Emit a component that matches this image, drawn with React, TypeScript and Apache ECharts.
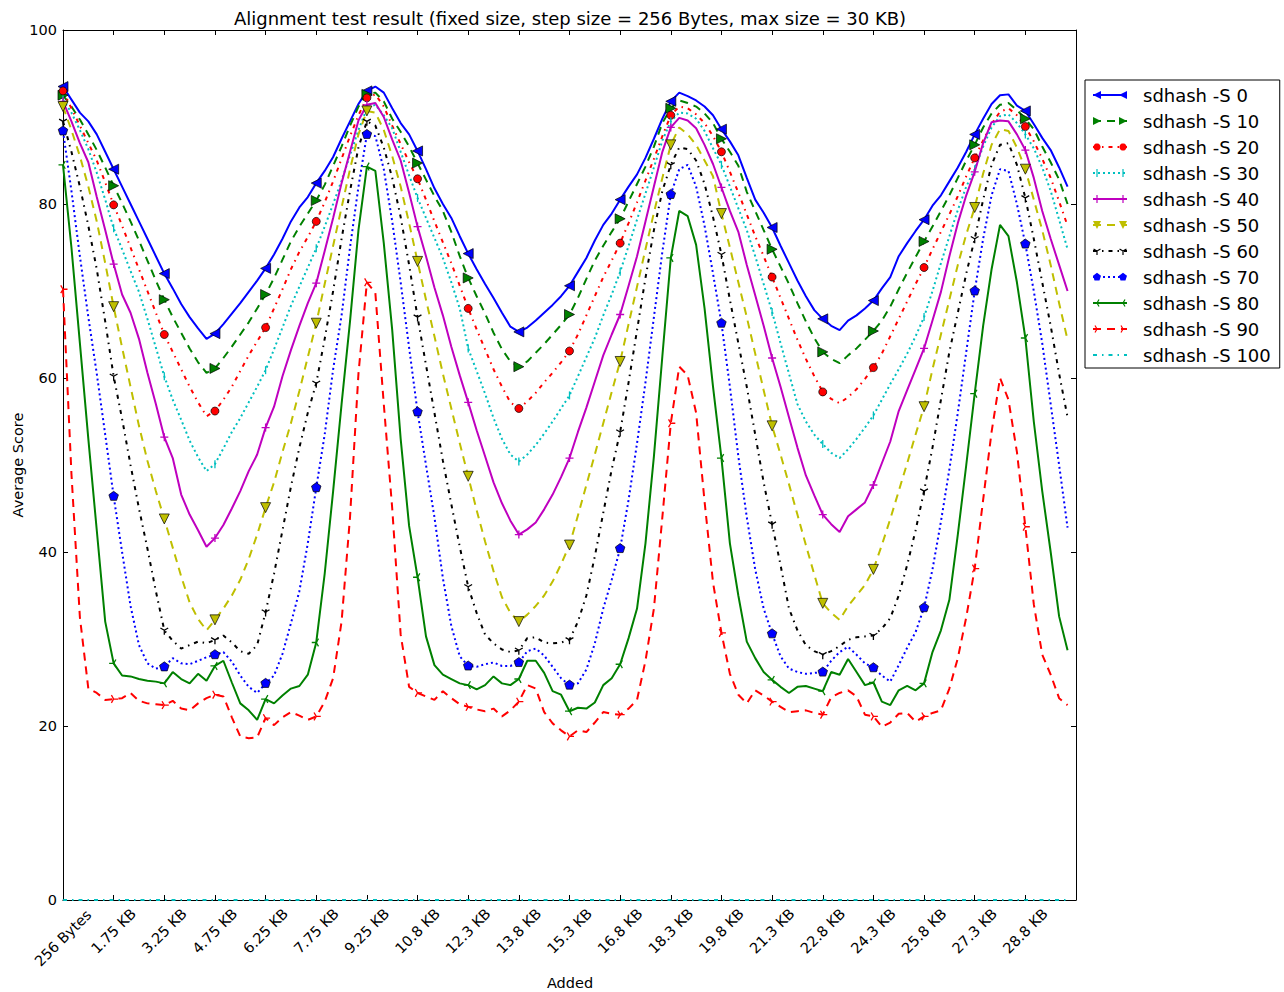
import React, { useEffect, useRef } from "react";
import * as echarts from "echarts";

// Tick labels every 6 steps (6 x 256 Bytes = 1.5 KB)
const tickLabels = [
  "256 Bytes", "1.75 KB", "3.25 KB", "4.75 KB", "6.25 KB", "7.75 KB", "9.25 KB",
  "10.8 KB", "12.3 KB", "13.8 KB", "15.3 KB", "16.8 KB", "18.3 KB", "19.8 KB",
  "21.3 KB", "22.8 KB", "24.3 KB", "25.8 KB", "27.3 KB", "28.8 KB",
];

const seriesNames = [
  "sdhash -S 0", "sdhash -S 10", "sdhash -S 20", "sdhash -S 30", "sdhash -S 40",
  "sdhash -S 50", "sdhash -S 60", "sdhash -S 70", "sdhash -S 80", "sdhash -S 90",
  "sdhash -S 100",
];

const s0 = [
  93.5, 92.0, 90.5, 89.5, 88.0, 86.0, 84.0, 82.0, 80.0, 78.0,
  76.0, 74.0, 72.0, 70.3, 68.5, 67.0, 65.7, 64.5, 65.1, 66.2,
  67.4, 68.6, 69.9, 71.2, 72.6, 74.2, 76.0, 78.0, 79.6, 80.8,
  82.4, 83.8, 85.4, 87.5, 89.5, 91.5, 93.0, 93.5, 92.8, 91.0,
  89.3, 88.0, 86.1, 84.0, 81.8, 80.0, 78.4, 76.3, 74.3, 72.5,
  70.8, 69.2, 67.5, 65.9, 65.3, 65.8, 66.6, 67.5, 68.4, 69.4,
  70.6, 72.2, 73.8, 75.8, 77.6, 78.9, 80.5, 82.0, 83.4, 85.3,
  87.5, 89.8, 91.8, 92.8, 92.4, 91.9, 91.2, 90.2, 88.6, 87.2,
  85.6, 83.0, 80.5, 79.0, 77.3, 75.2, 73.2, 71.2, 69.4, 67.8,
  66.8, 66.0, 65.5, 66.6, 67.2, 68.0, 68.9, 70.3, 71.6, 74.0,
  75.5, 76.9, 78.2, 79.8, 81.0, 82.6, 84.2, 86.0, 88.0, 89.8,
  91.5, 92.5, 92.6, 91.3, 90.7, 89.2, 87.6, 86.2, 84.2, 82.0,
];

const s10 = [
  92.5, 91.2, 89.7, 88.0, 86.2, 84.2, 82.1, 80.1, 78.0, 75.8,
  73.5, 71.2, 69.0, 67.0, 65.2, 63.4, 61.8, 60.6, 61.1, 62.3,
  63.6, 65.0, 66.4, 68.0, 69.6, 71.5, 73.6, 75.7, 77.4, 78.9,
  80.4, 82.2, 84.4, 86.6, 89.0, 91.2, 92.6, 92.8, 91.8, 89.8,
  88.3, 86.6, 84.7, 82.8, 80.9, 79.2, 76.8, 74.0, 71.5, 69.4,
  67.4, 65.2, 63.3, 61.9, 61.3, 61.9, 62.9, 63.9, 65.0, 66.1,
  67.3, 69.2, 71.4, 73.5, 75.2, 76.8, 78.3, 80.3, 82.3, 84.3,
  86.6, 89.3, 91.0, 91.9, 91.6, 91.2, 90.4, 89.3, 87.5, 86.0,
  84.4, 81.4, 79.2, 77.0, 74.8, 72.8, 70.8, 68.6, 66.5, 64.6,
  63.0, 62.2, 61.7, 62.6, 63.4, 64.4, 65.4, 66.6, 68.2, 70.2,
  72.1, 73.9, 75.7, 77.4, 79.2, 81.0, 83.0, 85.0, 86.8, 88.8,
  90.4, 91.4, 91.6, 90.8, 89.8, 88.6, 86.6, 84.8, 82.8, 80.0,
];

const s20 = [
  93.0, 91.0, 89.0, 87.0, 85.0, 82.5, 79.9, 77.5, 75.0, 72.5,
  70.0, 67.5, 65.0, 63.0, 61.0, 59.0, 57.2, 55.6, 56.2, 57.5,
  59.0, 60.8, 62.6, 64.2, 65.8, 68.0, 70.2, 72.5, 74.5, 76.2,
  78.0, 80.2, 82.6, 85.2, 87.8, 90.2, 92.2, 92.6, 91.2, 89.0,
  86.9, 84.8, 82.9, 80.5, 78.0, 75.6, 73.2, 70.6, 68.0, 65.6,
  63.3, 61.0, 59.0, 57.2, 56.5, 57.3, 58.3, 59.5, 60.6, 61.8,
  63.1, 65.0, 67.2, 69.4, 71.6, 73.5, 75.5, 77.8, 80.2, 82.7,
  85.2, 87.8, 90.2, 91.2, 91.0, 90.3, 89.3, 87.8, 86.0, 83.7,
  81.3, 78.8, 76.3, 74.0, 71.6, 69.2, 66.8, 64.4, 62.2, 60.2,
  58.4, 57.6, 57.1, 57.8, 58.7, 59.9, 61.2, 62.8, 64.8, 66.8,
  68.8, 70.8, 72.7, 74.8, 76.8, 78.8, 80.9, 83.2, 85.3, 87.3,
  89.2, 90.6, 91.0, 90.2, 88.9, 87.2, 85.2, 83.0, 80.3, 77.5,
];

const s30 = [
  92.0, 90.5, 88.5, 86.3, 83.6, 80.5, 77.2, 74.8, 72.3, 69.9,
  66.8, 63.5, 60.2, 57.5, 55.2, 52.8, 50.9, 49.3, 50.1, 51.9,
  53.8, 55.4, 57.2, 59.0, 60.9, 63.3, 65.8, 68.3, 70.5, 72.7,
  74.9, 77.4, 80.0, 82.7, 85.6, 88.5, 91.0, 91.4, 90.2, 88.7,
  86.0, 83.3, 80.7, 78.4, 76.1, 73.8, 71.0, 68.0, 63.4, 60.8,
  58.2, 55.4, 53.0, 51.2, 50.4, 51.2, 52.3, 53.6, 55.0, 56.5,
  58.0, 60.2, 62.4, 64.6, 67.2, 69.6, 72.2, 75.2, 78.2, 81.2,
  84.2, 87.3, 89.5, 90.5, 90.4, 89.8, 88.4, 86.4, 84.5, 82.0,
  79.5, 77.0, 74.0, 70.8, 67.6, 64.0, 60.5, 57.0, 55.0, 53.5,
  52.4, 51.4, 50.8, 51.8, 53.0, 54.3, 55.7, 57.5, 59.3, 61.0,
  62.8, 64.8, 67.0, 70.0, 73.2, 76.3, 79.3, 82.0, 84.0, 86.6,
  88.8, 90.1, 90.3, 89.3, 88.0, 86.4, 84.2, 81.5, 78.2, 74.8,
];

const s40 = [
  91.8, 89.5, 87.0, 84.8, 80.8, 77.0, 73.1, 69.6, 67.5, 64.5,
  60.6, 57.0, 53.2, 50.8, 46.6, 44.3, 42.5, 40.6, 41.6, 43.1,
  45.0, 47.0, 49.3, 51.2, 54.3, 56.7, 60.2, 63.2, 66.0, 68.6,
  70.9, 74.6, 78.4, 82.4, 86.0, 89.6, 91.4, 91.6, 90.0, 87.4,
  85.0, 81.3, 77.4, 74.0, 70.4, 67.2, 63.6, 60.3, 57.2, 54.0,
  51.0, 48.0, 45.6, 43.6, 42.0, 42.6, 43.4, 44.9, 46.6, 48.6,
  50.8, 53.8, 56.6, 59.6, 62.6, 65.0, 67.3, 70.6, 74.0, 78.0,
  82.0, 86.0, 88.8, 89.9, 89.6, 88.7, 86.8, 84.6, 81.9, 79.2,
  76.8, 73.0, 69.5, 66.0, 62.3, 59.0, 55.5, 52.0, 48.8, 46.5,
  44.3, 43.2, 42.3, 44.1, 44.9, 45.7, 47.7, 50.2, 52.7, 56.2,
  58.6, 61.0, 63.4, 66.6, 69.9, 74.0, 77.8, 81.0, 83.7, 87.0,
  89.4, 89.6, 89.5, 88.0, 86.2, 83.0, 79.2, 76.0, 73.0, 70.0,
];

const s50 = [
  91.2, 88.5, 85.5, 82.0, 78.0, 73.2, 68.2, 63.5, 59.0, 54.5,
  50.5, 47.0, 43.8, 40.5, 37.2, 34.2, 32.3, 31.0, 32.2, 33.5,
  35.0, 36.8, 39.2, 42.0, 45.1, 48.0, 51.5, 54.8, 58.5, 62.4,
  66.3, 70.8, 75.2, 79.6, 84.0, 88.0, 90.7, 90.5, 88.5, 85.5,
  82.0, 77.8, 73.4, 69.0, 64.8, 60.5, 56.5, 52.5, 48.7, 44.8,
  41.2, 37.8, 34.8, 33.0, 32.0, 32.8, 33.8, 35.0, 36.6, 38.6,
  40.8, 44.2, 47.7, 51.2, 54.8, 58.4, 61.9, 66.2, 70.5, 74.8,
  79.0, 83.0, 86.8, 88.8, 88.0, 86.8, 85.0, 83.2, 78.9, 75.0,
  71.0, 67.0, 62.8, 58.6, 54.5, 51.2, 47.8, 44.3, 40.8, 37.4,
  34.1, 33.0, 32.2, 33.8, 35.0, 36.2, 38.0, 40.8, 43.8, 47.0,
  50.2, 53.5, 56.7, 61.0, 65.0, 69.0, 73.0, 76.5, 79.6, 83.5,
  86.8, 88.6, 88.4, 86.5, 84.0, 80.5, 77.0, 73.0, 68.6, 64.4,
];

const s60 = [
  89.5, 86.0, 82.0, 77.5, 72.5, 66.5, 60.2, 55.3, 50.0, 45.0,
  40.4, 35.5, 31.0, 29.8, 28.9, 29.3, 29.7, 29.5, 29.9, 30.4,
  29.6, 28.6, 28.3, 29.3, 33.1, 37.5, 42.5, 47.5, 52.0, 56.0,
  59.4, 64.5, 70.0, 76.0, 81.5, 86.5, 89.5, 89.0, 86.5, 83.0,
  78.5, 73.0, 67.0, 61.5, 56.0, 50.5, 45.5, 40.6, 36.0, 33.0,
  30.5, 29.5, 28.8, 28.5, 28.7, 30.1, 30.2, 29.6, 29.5, 29.6,
  29.9, 32.0, 35.0, 39.5, 44.5, 49.5, 53.8, 59.5, 65.5, 71.5,
  77.0, 81.5, 84.5, 86.5, 86.3, 85.0, 82.3, 78.5, 74.2, 69.0,
  64.0, 59.0, 53.5, 48.0, 43.2, 38.5, 33.5, 31.0, 29.3, 28.6,
  28.2, 28.6, 29.2, 29.9, 30.2, 30.3, 30.4, 31.2, 32.4, 35.0,
  38.5, 42.5, 47.0, 52.0, 57.5, 63.0, 67.5, 72.0, 76.0, 80.5,
  84.5, 86.8, 87.0, 84.5, 80.7, 76.0, 71.0, 66.0, 60.5, 55.5,
];

const s70 = [
  88.4, 81.5, 74.0, 67.0, 60.5, 53.5, 46.4, 40.0, 33.8, 29.3,
  27.2, 26.6, 26.8, 27.8, 27.2, 27.1, 27.5, 27.9, 28.2, 28.5,
  27.4, 25.8, 24.5, 23.8, 24.9, 25.8, 28.3, 31.8, 35.5, 41.0,
  47.4, 53.5, 61.0, 67.2, 75.0, 82.0, 88.0, 87.8, 84.0, 78.0,
  71.0, 63.5, 56.1, 50.0, 44.0, 37.0, 31.5, 28.0, 26.9, 26.8,
  27.1, 27.3, 26.9, 26.9, 27.3, 28.6, 28.9, 28.1, 26.8, 25.5,
  24.7, 24.9, 26.5, 29.5, 33.5, 36.8, 40.4, 46.0, 52.5, 59.5,
  67.0, 74.5, 81.1, 84.0, 84.5, 82.0, 77.5, 72.0, 66.3, 59.0,
  51.0, 44.0, 38.0, 33.5, 30.6, 28.0, 26.6, 26.2, 26.0, 26.1,
  26.2, 27.5, 28.5, 29.1, 28.2, 27.2, 26.7, 25.8, 25.1, 27.0,
  29.0, 30.8, 33.6, 38.0, 43.5, 49.5, 56.0, 63.0, 70.0, 76.0,
  81.0, 84.0, 83.8, 80.0, 75.4, 70.0, 64.0, 57.0, 50.0, 42.8,
];

const s80 = [
  84.5, 75.0, 64.0, 53.0, 42.5, 32.0, 27.2, 25.8, 25.7, 25.4,
  25.2, 25.1, 24.9, 26.2, 25.4, 24.9, 26.0, 25.2, 26.9, 27.5,
  25.0, 22.6, 21.8, 20.7, 23.1, 22.6, 23.5, 24.3, 24.6, 25.9,
  29.6, 37.5, 47.0, 57.0, 66.5, 77.0, 84.3, 83.8, 75.5, 65.5,
  53.0, 43.0, 37.1, 30.3, 27.0, 25.9, 25.4, 24.9, 24.7, 24.2,
  24.7, 25.7, 24.9, 24.7, 25.4, 27.5, 27.5, 26.1, 24.0, 23.6,
  21.7, 22.1, 22.0, 22.7, 24.7, 25.5, 27.1, 30.1, 33.5, 41.0,
  51.0, 62.5, 73.8, 79.2, 78.6, 75.3, 68.0, 59.0, 50.8, 41.0,
  35.0, 29.7, 27.8, 26.2, 25.3, 24.5, 23.8, 24.5, 24.6, 24.3,
  24.0, 26.2, 25.9, 27.7, 26.2, 24.7, 25.0, 22.8, 22.4, 24.1,
  24.6, 24.1, 24.9, 28.5, 31.0, 34.5, 42.0, 50.0, 58.2, 66.0,
  72.5, 77.6, 76.3, 71.0, 64.6, 55.0, 47.0, 40.0, 32.6, 28.7,
];

const s90 = [
  70.2, 49.0, 32.5, 24.3, 23.8, 23.0, 23.1, 23.2, 23.8, 22.9,
  22.6, 22.5, 22.4, 22.9, 22.0, 21.8, 22.6, 23.2, 23.6, 23.4,
  21.0, 18.8, 18.6, 18.7, 20.9, 20.1, 21.0, 21.6, 21.2, 20.7,
  21.1, 22.8, 25.5, 32.0, 44.0, 60.5, 71.0, 69.8, 57.0, 45.0,
  30.5, 24.5, 23.8, 23.4, 23.0, 24.0, 23.2, 22.5, 22.2, 21.9,
  21.7, 22.0, 21.1, 21.8, 22.8, 24.7, 24.3, 21.6, 20.3, 19.5,
  18.8, 19.5, 19.3, 20.4, 21.6, 21.4, 21.3, 22.0, 23.0, 27.5,
  33.5, 44.0, 54.8, 61.3, 60.3, 56.0, 45.8, 36.5, 30.7, 26.0,
  23.6, 22.6, 24.1, 23.5, 22.8, 22.2, 21.6, 21.7, 21.8, 21.5,
  21.3, 23.3, 23.8, 24.1, 23.4, 21.3, 21.1, 19.9, 20.4, 21.4,
  21.5, 20.5, 21.1, 21.5, 21.8, 24.3, 27.8, 32.5, 38.1, 46.0,
  53.8, 60.0, 57.5, 51.5, 42.9, 34.0, 28.2, 25.9, 23.2, 22.4,
];

const s100 = [
  0, 0, 0, 0, 0, 0, 0, 0, 0, 0,
  0, 0, 0, 0, 0, 0, 0, 0, 0, 0,
  0, 0, 0, 0, 0, 0, 0, 0, 0, 0,
  0, 0, 0, 0, 0, 0, 0, 0, 0, 0,
  0, 0, 0, 0, 0, 0, 0, 0, 0, 0,
  0, 0, 0, 0, 0, 0, 0, 0, 0, 0,
  0, 0, 0, 0, 0, 0, 0, 0, 0, 0,
  0, 0, 0, 0, 0, 0, 0, 0, 0, 0,
  0, 0, 0, 0, 0, 0, 0, 0, 0, 0,
  0, 0, 0, 0, 0, 0, 0, 0, 0, 0,
  0, 0, 0, 0, 0, 0, 0, 0, 0, 0,
  0, 0, 0, 0, 0, 0, 0, 0, 0, 0,
];

const seriesValues = [s0, s10, s20, s30, s40, s50, s60, s70, s80, s90, s100];

const FONT = '"DejaVu Sans", "Liberation Sans", sans-serif';
const MARK_EVERY = 6;

// Marker shapes; the leading "M0,0M10,10" pins the bounding box so stroked glyphs stay centred.
const SYM = {
  pentagon: "path://M0,0M10,10M5,0L9.76,3.45L7.94,9.05L2.06,9.05L0.24,3.45Z",
  vline: "path://M0,0M10,10M5,0L5,10",
  plus: "path://M0,0M10,10M5,0L5,10M0,5L10,5",
  triDown: "path://M0,0M10,10M5,5L5,10M5,5L0.67,2.5M5,5L9.33,2.5",
  triLeft: "path://M0,0M10,10M5,5L0,5M5,5L7.5,0.67M5,5L7.5,9.33",
  triRight: "path://M0,0M10,10M5,5L10,5M5,5L2.5,0.67M5,5L2.5,9.33",
  pixel: "path://M0,0M10,10M4.5,4.5L5.5,4.5L5.5,5.5L4.5,5.5Z",
};

const DASHED = [8, 6];
const DOTTED = [2, 3];
const DASHDOT = [4, 5, 1.5, 5];

type Look = {
  color: string;
  dash: string | number[];
  symbol: string;
  rotate: number;
  size: number;
  filled: boolean;
  mark: string;
};

const looks: Look[] = [
  { color: "#0000ff", dash: "solid", symbol: "triangle", rotate: 90, size: 10, filled: true, mark: "tri" },
  { color: "#008000", dash: DASHED, symbol: "triangle", rotate: -90, size: 10, filled: true, mark: "tri" },
  { color: "#ff0000", dash: DASHDOT, symbol: "circle", rotate: 0, size: 8, filled: true, mark: "circle" },
  { color: "#00bfbf", dash: DOTTED, symbol: SYM.vline, rotate: 0, size: 8, filled: false, mark: "vline" },
  { color: "#bf00bf", dash: "solid", symbol: SYM.plus, rotate: 0, size: 8, filled: false, mark: "plus" },
  { color: "#bfbf00", dash: DASHED, symbol: "triangle", rotate: 180, size: 10, filled: true, mark: "tri" },
  { color: "#000000", dash: DASHDOT, symbol: SYM.triDown, rotate: 0, size: 9, filled: false, mark: "triDown" },
  { color: "#0000ff", dash: DOTTED, symbol: SYM.pentagon, rotate: 0, size: 10, filled: true, mark: "pent" },
  { color: "#008000", dash: "solid", symbol: SYM.triLeft, rotate: 0, size: 9, filled: false, mark: "triLeft" },
  { color: "#ff0000", dash: DASHED, symbol: SYM.triRight, rotate: 0, size: 9, filled: false, mark: "triRight" },
  { color: "#00bfbf", dash: DASHDOT, symbol: SYM.pixel, rotate: 0, size: 2, filled: true, mark: "pixel" },
];

// ---- legend handle: a short line sample with a marker near each end, as one filled path ----
const LEG_W = 40;
const LEG_H = 12;
const LEG_CY = 6;
const LEG_X0 = 3;
const LEG_X1 = 37;
const LEG_MARKS = [7, 33];

function polyPath(pts: number[][]): string {
  let s = 0;
  for (let i = 0; i < pts.length; i++) {
    const a = pts[i];
    const b = pts[(i + 1) % pts.length];
    s += a[0] * b[1] - b[0] * a[1];
  }
  const p = s < 0 ? pts.slice().reverse() : pts;
  return "M" + p.map((q) => q[0].toFixed(2) + "," + q[1].toFixed(2)).join("L") + "Z";
}

function rectPath(x: number, y: number, w: number, h: number): string {
  return polyPath([[x, y], [x + w, y], [x + w, y + h], [x, y + h]]);
}

function armPath(cx: number, cy: number, ex: number, ey: number, t: number): string {
  const dx = ex - cx;
  const dy = ey - cy;
  const len = Math.hypot(dx, dy);
  const nx = (-dy / len) * (t / 2);
  const ny = (dx / len) * (t / 2);
  return polyPath([[cx + nx, cy + ny], [ex + nx, ey + ny], [ex - nx, ey - ny], [cx - nx, cy - ny]]);
}

function legendMarker(lk: Look, cx: number, cy: number): string {
  const r = 4;
  const t = 1.2;
  switch (lk.mark) {
    case "tri": {
      const a = (lk.rotate * Math.PI) / 180;
      const base = [[0, -r], [r, r], [-r, r]];
      return polyPath(
        base.map(([x, y]) => [cx + x * Math.cos(a) + y * Math.sin(a), cy - x * Math.sin(a) + y * Math.cos(a)])
      );
    }
    case "circle": {
      const pts: number[][] = [];
      for (let i = 0; i < 20; i++) {
        const a = (i / 20) * Math.PI * 2;
        pts.push([cx + 3.6 * Math.cos(a), cy + 3.6 * Math.sin(a)]);
      }
      return polyPath(pts);
    }
    case "pent": {
      const pts: number[][] = [];
      for (let i = 0; i < 5; i++) {
        const a = -Math.PI / 2 + (i * 2 * Math.PI) / 5;
        pts.push([cx + 4.2 * Math.cos(a), cy + 4.2 * Math.sin(a)]);
      }
      return polyPath(pts);
    }
    case "vline":
      return rectPath(cx - t / 2, cy - r, t, 2 * r);
    case "plus":
      return rectPath(cx - t / 2, cy - r, t, 2 * r) + rectPath(cx - r, cy - t / 2, 2 * r, t);
    case "triDown":
      return armPath(cx, cy, cx, cy + r, t) + armPath(cx, cy, cx - 3.46, cy - 2, t) + armPath(cx, cy, cx + 3.46, cy - 2, t);
    case "triLeft":
      return armPath(cx, cy, cx - r, cy, t) + armPath(cx, cy, cx + 2, cy - 3.46, t) + armPath(cx, cy, cx + 2, cy + 3.46, t);
    case "triRight":
      return armPath(cx, cy, cx + r, cy, t) + armPath(cx, cy, cx - 2, cy - 3.46, t) + armPath(cx, cy, cx - 2, cy + 3.46, t);
    default:
      return "";
  }
}

function legendIcon(lk: Look): string {
  let d = `M0,0M${LEG_W},${LEG_H}`;
  if (lk.dash === "solid") {
    d += rectPath(LEG_X0, LEG_CY - 1, LEG_X1 - LEG_X0, 2);
  } else {
    const pat = lk.dash as number[];
    let x = LEG_X0;
    let i = 0;
    while (x < LEG_X1) {
      const xe = Math.min(x + pat[i % pat.length], LEG_X1);
      if (i % 2 === 0) d += rectPath(x, LEG_CY - 1, xe - x, 2);
      x = xe;
      i++;
    }
  }
  for (const cx of LEG_MARKS) d += legendMarker(lk, cx, LEG_CY);
  return "path://" + d;
}

const TITLE = "Alignment test result (fixed size, step size = 256 Bytes, max size = 30 KB)";

function buildOption() {
  const series = seriesValues.map((vals, k) => {
    const lk = looks[k];
    return {
      name: seriesNames[k],
      type: "line",
      data: vals.map((v, i) => [i, v]),
      symbol: lk.symbol,
      symbolRotate: lk.rotate,
      symbolSize: (_v: unknown, p: any) => (p.dataIndex % MARK_EVERY === 0 ? lk.size : 0),
      showSymbol: true,
      showAllSymbol: true,
      lineStyle: { color: lk.color, width: 2, type: lk.dash, cap: "butt" },
      itemStyle: lk.filled
        ? { color: lk.color, borderColor: "#000", borderWidth: 0.7 }
        : { color: lk.color, borderColor: lk.color, borderWidth: 1.3 },
      emphasis: { disabled: true },
      z: 2,
    };
  });

  const tickStyle = { show: true, inside: true, length: 5, lineStyle: { color: "#000", width: 1 } };
  const lineStyle = { show: true, onZero: false, lineStyle: { color: "#000", width: 1 } };

  return {
    animation: false,
    backgroundColor: "#fff",
    grid: { left: 63, right: 208, top: 30, bottom: 92, outerBoundsMode: "none" },
    xAxis: [
      {
        type: "value",
        position: "bottom",
        min: 0,
        max: 120,
        interval: 6,
        axisLine: lineStyle,
        axisTick: tickStyle,
        splitLine: { show: false },
        axisLabel: {
          rotate: 45,
          align: "center",
          verticalAlign: "middle",
          margin: 31,
          color: "#000",
          fontSize: 14.5,
          fontFamily: FONT,
          formatter: (v: number) => {
            const k = Math.round(v / 6);
            if (k >= tickLabels.length) return "";
            return k === 0 ? `{first|${tickLabels[0]}}` : tickLabels[k];
          },
          rich: {
            first: { fontSize: 14.5, fontFamily: FONT, color: "#000", padding: [10, 10, 0, 0] },
          },
        },
      },
      {
        type: "value",
        position: "top",
        min: 0,
        max: 120,
        interval: 6,
        axisLine: lineStyle,
        axisTick: tickStyle,
        splitLine: { show: false },
        axisLabel: { show: false },
      },
    ],
    yAxis: [
      {
        type: "value",
        position: "left",
        min: 0,
        max: 100,
        interval: 20,
        axisLine: lineStyle,
        axisTick: tickStyle,
        splitLine: { show: false },
        axisLabel: { color: "#000", fontSize: 14.5, fontFamily: FONT, margin: 6 },
      },
      {
        type: "value",
        position: "right",
        min: 0,
        max: 100,
        interval: 20,
        axisLine: lineStyle,
        axisTick: tickStyle,
        splitLine: { show: false },
        axisLabel: { show: false },
      },
    ],
    legend: {
      data: seriesNames.map((name, k) => ({ name, icon: legendIcon(looks[k]) })),
      orient: "vertical",
      left: 1085,
      top: 80,
      padding: [6, 9, 4, 5],
      itemGap: 8,
      itemWidth: LEG_W,
      itemHeight: LEG_H,
      itemStyle: { borderWidth: 0 },
      borderColor: "#000",
      borderWidth: 1,
      borderRadius: 0,
      backgroundColor: "#fff",
      selectedMode: false,
      textStyle: { color: "#000", fontSize: 18, fontFamily: FONT, padding: [0, 0, 0, 8] },
    },
    graphic: [
      {
        type: "text",
        x: 570,
        y: 18,
        style: {
          text: TITLE,
          font: `18px ${FONT}`,
          fill: "#000",
          textAlign: "center",
          textVerticalAlign: "middle",
        },
      },
      {
        type: "text",
        x: 570,
        y: 983,
        style: {
          text: "Added",
          font: `14.5px ${FONT}`,
          fill: "#000",
          textAlign: "center",
          textVerticalAlign: "middle",
        },
      },
      {
        type: "text",
        x: 18,
        y: 465,
        rotation: Math.PI / 2,
        style: {
          text: "Average Score",
          font: `14.5px ${FONT}`,
          fill: "#000",
          textAlign: "center",
          textVerticalAlign: "middle",
        },
      },
    ],
    series,
  };
}

export default function App() {
  const ref = useRef<HTMLDivElement>(null);
  useEffect(() => {
    if (!ref.current) return;
    const chart = echarts.init(ref.current, null, { renderer: "svg" });
    chart.setOption(buildOption() as any);
    return () => chart.dispose();
  }, []);
  return (
    <div
      ref={ref}
      style={{ position: "absolute", left: 0, top: 0, width: 1284, height: 992, background: "#fff" }}
    />
  );
}
